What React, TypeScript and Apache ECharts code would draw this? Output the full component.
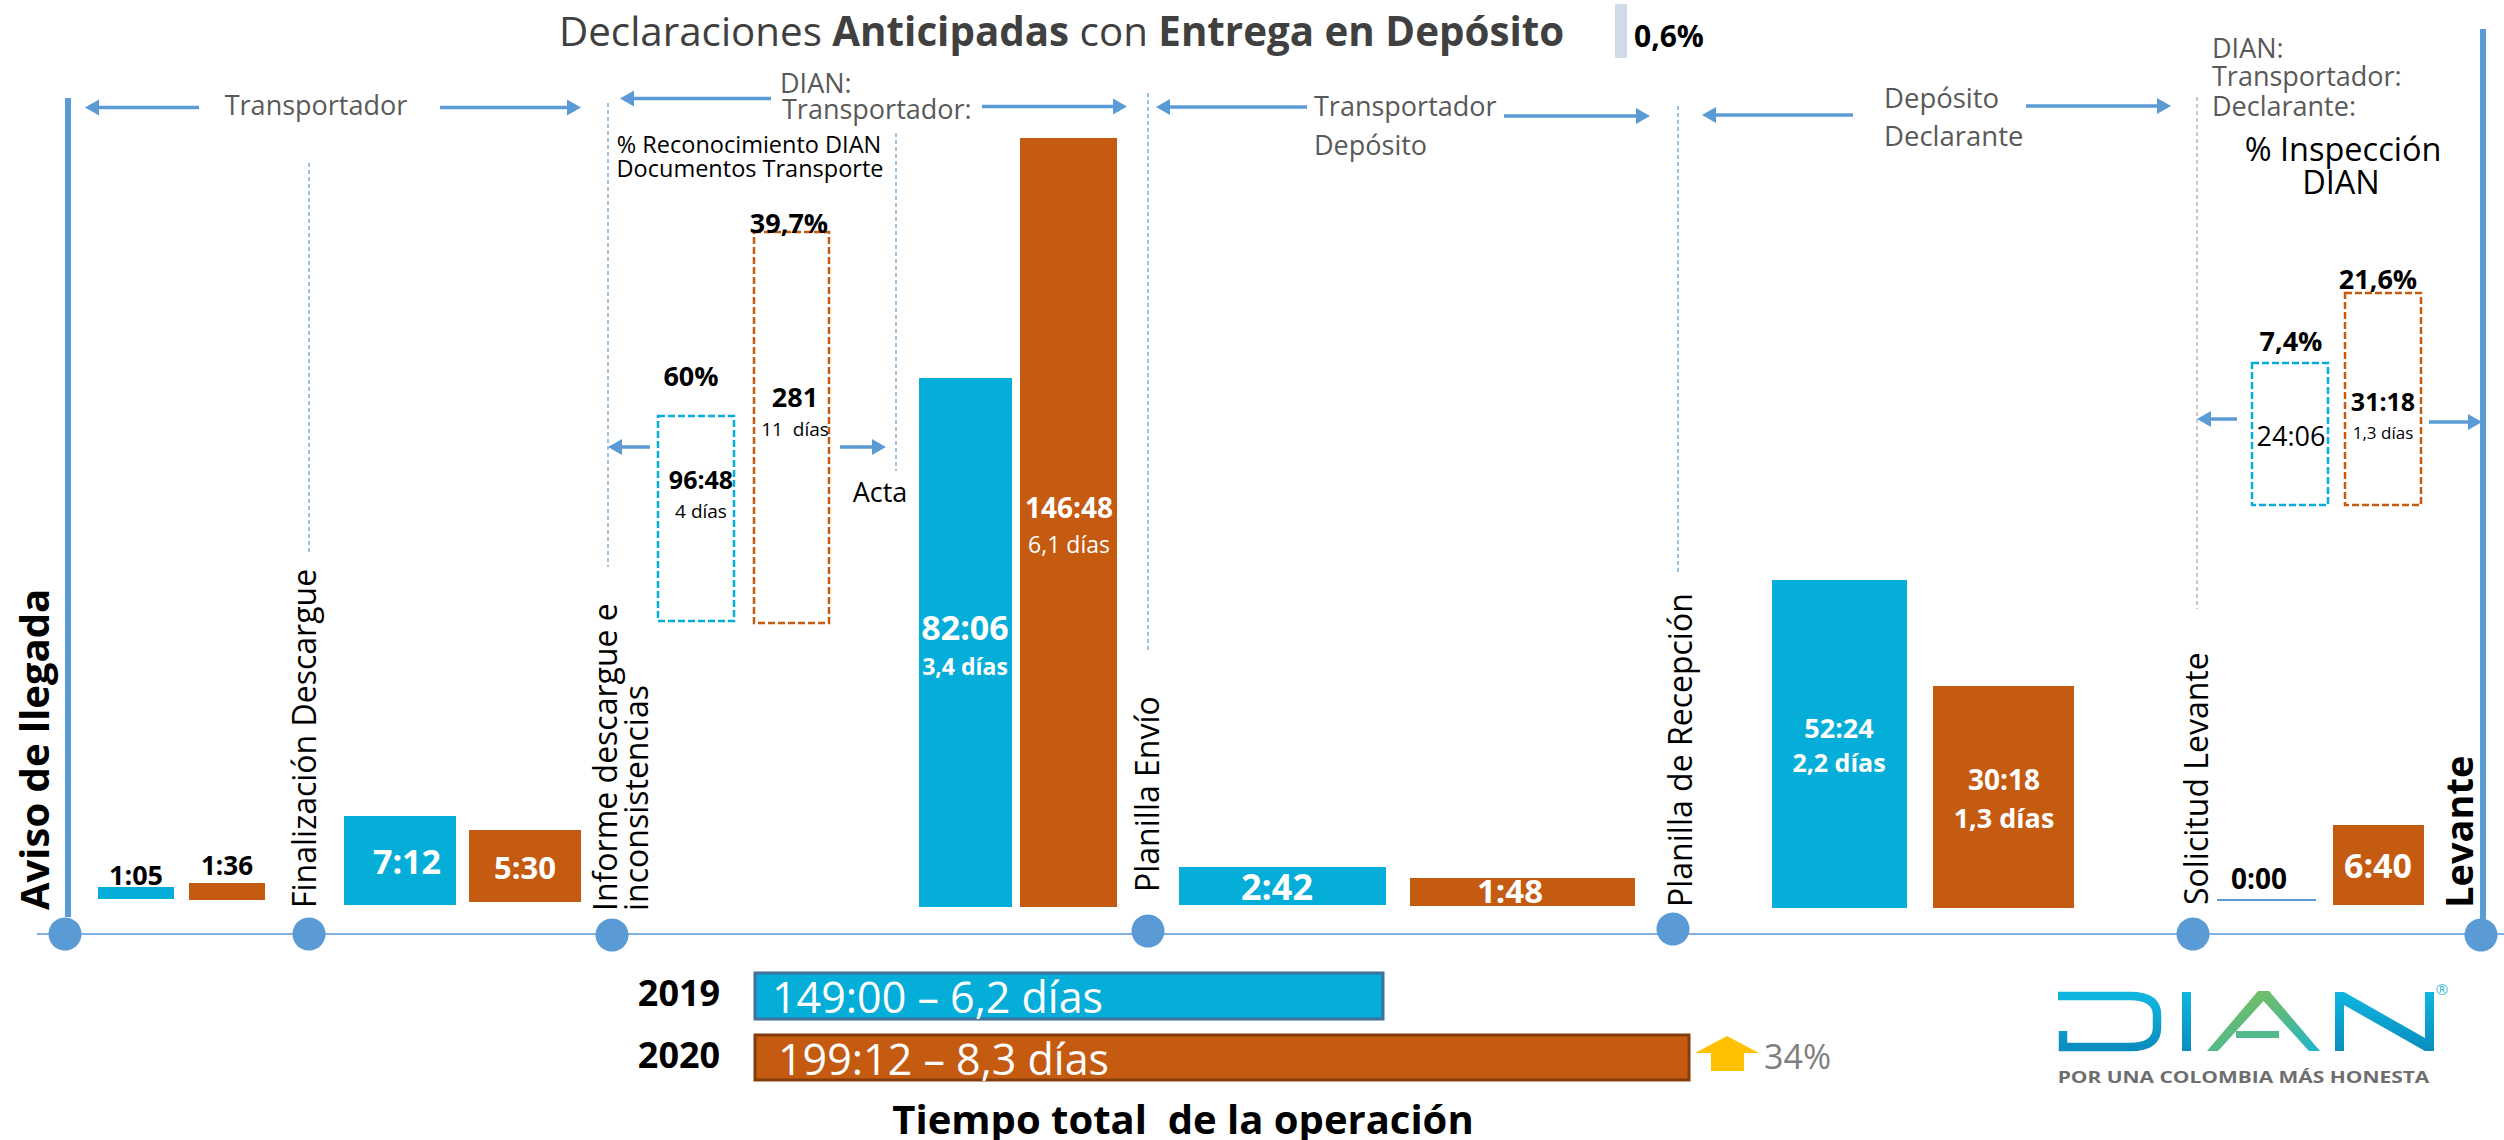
import React, { useEffect, useRef } from "react";
import * as echarts from "echarts";

const W = 2504;
const H = 1140;
const FONT = '"Open Sans", sans-serif';
const BLUE = "#05AED9";
const BROWN = "#C55A11";
const LINE = "#5B9BD5";
const GREY_TEXT = "#595959";

// Heights: the reference's bars are not to one time scale.
const stageHeights2019 = [12, 89, 529, 38, 328, 0];
const stageHeights2020 = [17, 72, 769, 28, 222, 80];
const dashedHeights2019 = [205, 142];
const dashedHeights2020 = [391, 212];
const totalLengths = [628, 934];
const shareHeights = [54];

const stageLabels2019 = ["1:05", "7:12", "82:06", "2:42", "52:24", "0:00"];
const stageLabels2020 = ["1:36", "5:30", "146:48", "1:48", "30:18", "6:40"];
const stageDays2019 = ["", "", "3,4 días", "", "2,2 días", ""];
const stageDays2020 = ["", "", "6,1 días", "", "1,3 días", ""];
const dashedLabels2019 = ["96:48", "24:06"];
const dashedLabels2020 = ["281", "31:18"];
const dashedDays2019 = ["4 días", ""];
const dashedDays2020 = ["11  días", "1,3 días"];
const dashedPct2019 = ["60%", "7,4%"];
const dashedPct2020 = ["39,7%", "21,6%"];
const totalYears = ["2019", "2020"];
const totalLabels = ["149:00 – 6,2 días", "199:12 – 8,3 días"];
const milestones = ["Aviso de llegada", "Finalización Descargue", "Informe descargue e", "inconsistencias", "Planilla Envío", "Planilla de Recepción", "Solicitud Levante", "Levante"];

// ---- layout (pixels of the 2504×1140 page) ----
const slots2019 = [
  { x0: 98, x1: 174, base: 899 }, { x0: 344, x1: 456, base: 905 }, { x0: 919, x1: 1012, base: 907 },
  { x0: 1179, x1: 1386, base: 905 }, { x0: 1772, x1: 1907, base: 908 }, { x0: 2217, x1: 2316, base: 900 },
];
const slots2020 = [
  { x0: 189, x1: 265, base: 900 }, { x0: 469, x1: 581, base: 902 }, { x0: 1020, x1: 1117, base: 907 },
  { x0: 1410, x1: 1635, base: 906 }, { x0: 1933, x1: 2074, base: 908 }, { x0: 2333, x1: 2424, base: 905 },
];
const dashedSlots2019 = [{ x0: 658, x1: 734, base: 621 }, { x0: 2252, x1: 2328, base: 505 }];
const dashedSlots2020 = [{ x0: 754, x1: 829, base: 623 }, { x0: 2345, x1: 2421, base: 505 }];
const shareSlots = [{ x0: 1615, x1: 1627, base: 58 }];
const totalSlots = [{ x: 755, top: 973, bottom: 1019, border: "#41719C" }, { x: 755, top: 1035, bottom: 1080, border: "#843C0C" }];

const labelPos2019 = [
  [136, 874, 27, "#000"], [407, 861, 34, "#fff"], [965, 627, 34, "#fff"],
  [1277, 886, 36, "#fff"], [1839, 727, 27, "#fff"], [2259, 878, 28, "#000"],
] as const;
const labelPos2020 = [
  [227, 865, 26, "#000"], [525, 867, 31, "#fff"], [1069, 507, 28, "#fff"],
  [1510, 890, 33, "#fff"], [2004, 779, 28, "#fff"], [2378, 865, 34, "#fff"],
] as const;
const dayPos2019 = [null, null, [965, 666, 23], null, [1839, 762, 25], null] as const;
const dayPos2020 = [null, null, [1069, 544, 23], null, [2004, 817, 27], null] as const;

function t(text: string, x: number, y: number, size: number, o: any = {}) {
  return {
    type: "text", x, y, z: 20, rotation: o.rotation ?? 0, scaleX: o.scaleX ?? 1,
    style: {
      text, x: 0, y: 0, fontFamily: FONT, fontSize: size, fontWeight: o.bold ? 700 : 400,
      fill: o.color ?? "#000", align: o.align ?? "center", verticalAlign: "middle",
    },
  };
}

function vline(x: number, y0: number, y1: number, stroke = LINE, lineWidth = 1.2, lineDash: any = [4, 3]) {
  return { type: "line", z: 3, shape: { x1: x, y1: y0, x2: x, y2: y1 }, style: { stroke, lineWidth, lineDash } };
}

function arrow(from: number, tip: number, y: number) {
  const dir = tip > from ? 1 : -1;
  const head = 14;
  return [
    { type: "line", z: 4, shape: { x1: from, y1: y, x2: tip - dir * head, y2: y }, style: { stroke: LINE, lineWidth: 3.5 } },
    { type: "polygon", z: 4, shape: { points: [[tip, y], [tip - dir * head, y - 8], [tip - dir * head, y + 8]] }, style: { fill: LINE } },
  ];
}

const rot = Math.PI / 2;
const ROT_SIZE = 32;
const annotations: any[] = [
  // timeline
  { type: "line", z: 2, shape: { x1: 37, y1: 934, x2: 2504, y2: 934 }, style: { stroke: "#7FB0E0", lineWidth: 2 } },
  vline(68, 98, 917, LINE, 6, null),
  vline(2483, 29, 919, LINE, 6, null),
  vline(309, 163, 552),
  vline(608, 103, 567),
  vline(896, 133, 471),
  vline(1148, 93, 652),
  vline(1678, 106, 572),
  vline(2197, 97, 609, "#A6A6A6"),
  ...[[65, 934], [309, 934], [612, 935], [1148, 931], [1673, 929], [2193, 934], [2481, 935]].map(([cx, cy]) => ({
    type: "circle", z: 5, shape: { cx, cy, r: 16.5 }, style: { fill: LINE },
  })),
  // arrows
  ...arrow(199, 85, 107.5), ...arrow(440, 581, 107.5),
  ...arrow(771, 620, 98.5), ...arrow(982, 1127, 106.5),
  ...arrow(1307, 1156, 107), ...arrow(1504, 1650, 116),
  ...arrow(1853, 1702, 115), ...arrow(2026, 2171, 106),
  ...arrow(650, 608, 447), ...arrow(840, 886, 447),
  ...arrow(2237, 2197, 419), ...arrow(2429, 2482, 422),
  // responsible parties
  t("Transportador", 316, 104, 27, { color: GREY_TEXT }),
  t("DIAN:", 780, 82, 27, { color: GREY_TEXT, align: "left" }),
  t("Transportador:", 782, 108, 27, { color: GREY_TEXT, align: "left" }),
  t("Transportador", 1314, 105, 27, { color: GREY_TEXT, align: "left" }),
  t("Depósito", 1314, 144, 27, { color: GREY_TEXT, align: "left" }),
  t("Depósito", 1884, 97, 27.5, { color: GREY_TEXT, align: "left" }),
  t("Declarante", 1884, 135, 27.5, { color: GREY_TEXT, align: "left" }),
  t("DIAN:", 2212, 47, 27, { color: GREY_TEXT, align: "left" }),
  t("Transportador:", 2212, 75, 27, { color: GREY_TEXT, align: "left" }),
  t("Declarante:", 2212, 105, 27, { color: GREY_TEXT, align: "left" }),
  t("% Reconocimiento DIAN", 749, 144, 23.5),
  t("Documentos Transporte", 750, 168, 23.5),
  t("Acta", 880, 491, 27),
  t("% Inspección", 2343, 148, 32.5),
  t("DIAN", 2341, 181, 32.5),
  t("0,6%", 1634, 35, 30, { bold: true, align: "left" }),
  // milestones
  t(milestones[0], 33, 910, 40, { bold: true, rotation: rot, align: "left" }),
  t(milestones[1], 303, 908, ROT_SIZE, { rotation: rot, align: "left" }),
  t(milestones[2], 604, 911, ROT_SIZE, { rotation: rot, align: "left" }),
  t(milestones[3], 635, 911, ROT_SIZE, { rotation: rot, align: "left" }),
  t(milestones[4], 1146, 892, ROT_SIZE, { rotation: rot, align: "left" }),
  t(milestones[5], 1679, 907, ROT_SIZE, { rotation: rot, align: "left" }),
  t(milestones[6], 2195, 905, ROT_SIZE, { rotation: rot, align: "left" }),
  t(milestones[7], 2458, 908, 38, { bold: true, rotation: rot, align: "left" }),
  // stage labels
  ...stageLabels2019.map((s, i) => t(s, labelPos2019[i][0], labelPos2019[i][1], labelPos2019[i][2], { bold: true, color: labelPos2019[i][3] })),
  ...stageLabels2020.map((s, i) => t(s, labelPos2020[i][0], labelPos2020[i][1], labelPos2020[i][2], { bold: true, color: labelPos2020[i][3] })),
  ...stageDays2019.flatMap((s, i) => { const p = dayPos2019[i]; return p ? [t(s, p[0], p[1], p[2], { bold: true, color: "#fff" })] : []; }),
  ...stageDays2020.flatMap((s, i) => { const p = dayPos2020[i]; return p ? [t(s, p[0], p[1], p[2], { bold: i === 4, color: "#fff" })] : []; }),
  // dashed boxes
  t(dashedPct2019[0], 691, 375, 27, { bold: true }),
  t(dashedPct2020[0], 789, 222, 27, { bold: true }),
  t(dashedLabels2019[0], 701, 479, 25, { bold: true }),
  t(dashedDays2019[0], 701, 511, 19),
  t(dashedLabels2020[0], 795, 396, 27, { bold: true }),
  t(dashedDays2020[0], 795, 429, 19),
  t(dashedPct2019[1], 2291, 340, 27, { bold: true }),
  t(dashedPct2020[1], 2378, 278, 27, { bold: true }),
  t(dashedLabels2019[1], 2291, 435, 27),
  t(dashedLabels2020[1], 2383, 401, 25, { bold: true }),
  t(dashedDays2020[1], 2383, 432, 17),
  // totals
  t(totalYears[0], 679, 992, 36, { bold: true }),
  t(totalYears[1], 679, 1054, 36, { bold: true }),
  t(totalLabels[0], 772, 996, 43, { color: "#fff", align: "left" }),
  t(totalLabels[1], 778, 1058, 43, { color: "#fff", align: "left" }),
  t("Tiempo total  de la operación", 1183, 1118, 40, { bold: true }),
  { type: "polygon", z: 6, shape: { points: [[1727, 1036], [1759, 1053], [1744, 1053], [1744, 1071], [1711, 1071], [1711, 1053], [1695, 1053]] }, style: { fill: "#FFC000" } },
  t("34%", 1764, 1056, 34, { color: "#7F7F7F", align: "left" }),
];

function vert(c0: string, c1: string) {
  return new echarts.graphic.LinearGradient(0, 0, 0, 1, [{ offset: 0, color: c0 }, { offset: 1, color: c1 }]);
}

function logo(): any[] {
  const aFill = new echarts.graphic.LinearGradient(0.15, 0, 1, 1, [
    { offset: 0, color: "#7DC05A" }, { offset: 0.55, color: "#52B98A" }, { offset: 1, color: "#1DB5D2" },
  ]);
  return [
    { type: "dianD", z: 8, style: { fill: "none", stroke: vert("#0FB6E0", "#0A8DBF"), lineWidth: 8.5 } },
    { type: "rect", z: 8, shape: { x: 2182, y: 992, width: 9, height: 59 }, style: { fill: vert("#0FB6E0", "#0A8DBF") } },
    { type: "polygon", z: 8, shape: { points: [[2207, 1051], [2258, 991], [2269, 991], [2320, 1051], [2309, 1051], [2263.5, 1001], [2218, 1051]] }, style: { fill: aFill } },
    { type: "rect", z: 8, shape: { x: 2236, y: 1031, width: 43, height: 7 }, style: { fill: "#52B98A" } },
    {
      type: "polygon", z: 8,
      shape: { points: [[2335, 1051], [2335, 992], [2344, 992], [2425, 1038], [2425, 992], [2434, 992], [2434, 1051], [2425, 1051], [2344, 1005], [2344, 1051]] },
      style: { fill: vert("#0FB6E0", "#0A8DBF") },
    },
    t("®", 2442, 989, 15, { color: "#39B9DF" }),
    t("POR UNA COLOMBIA MÁS HONESTA", 2243.5, 1077, 16, { bold: true, color: "#6E6E6E", scaleX: 1.31 }),
  ];
}

const barSeries = (name: string, heights: number[], slots: any[], style: any, zero = false) => ({
  type: "custom", name, coordinateSystem: "cartesian2d", clip: false, silent: true, z: 4,
  data: heights.map((v, i) => [i, v]),
  renderItem: (_: any, api: any) => {
    const i = api.value(0), h = api.value(1), s = slots[i];
    const base = H - s.base;
    const a = api.coord([s.x0, base]);
    const b = api.coord([s.x1, base + h]);
    if (h === 0 && zero) {
      return { type: "line", shape: { x1: a[0], y1: a[1], x2: b[0], y2: a[1] }, style: { stroke: LINE, lineWidth: 2 } };
    }
    return { type: "rect", shape: { x: a[0], y: b[1], width: b[0] - a[0], height: a[1] - b[1] }, style };
  },
});

export default function App() {
  const ref = useRef<HTMLDivElement>(null);
  useEffect(() => {
    if (!ref.current) return;
    echarts.graphic.registerShape(
      "dianD",
      echarts.graphic.extendPath("M2058 996 H2130 Q2157 996 2157 1015 V1028 Q2157 1047 2130 1047 H2063 V1031", {})
    );
    const chart = echarts.init(ref.current, undefined, { renderer: "svg" });
    chart.setOption({
      animation: false,
      title: {
        left: 559, top: 4, padding: 0,
        text: "{n|Declaraciones }{b|Anticipadas}{n| con }{b|Entrega en Depósito}",
        textStyle: {
          rich: {
            n: { fontFamily: FONT, fontSize: 40.3, color: "#404040", fontWeight: 400, lineHeight: 52 },
            b: { fontFamily: FONT, fontSize: 40.3, color: "#404040", fontWeight: 700, lineHeight: 52 },
          },
        },
      },
      grid: { left: 0, right: 0, top: 0, bottom: 0 },
      xAxis: { type: "value", min: 0, max: W, show: false },
      yAxis: { type: "value", min: 0, max: H, show: false },
      graphic: { elements: [...annotations, ...logo()] },
      series: [
        barSeries("2019", stageHeights2019, slots2019, { fill: BLUE }, true),
        barSeries("2020", stageHeights2020, slots2020, { fill: BROWN }),
        barSeries("2019 documentos", dashedHeights2019, dashedSlots2019, { fill: "#fff", stroke: BLUE, lineWidth: 2.5, lineDash: [7, 3] }),
        barSeries("2020 documentos", dashedHeights2020, dashedSlots2020, { fill: "#fff", stroke: BROWN, lineWidth: 2.5, lineDash: [7, 3] }),
        barSeries("Participación", shareHeights, shareSlots, { fill: "#D0DBEA" }),
        {
          type: "custom", name: "Tiempo total", coordinateSystem: "cartesian2d", clip: false, silent: true, z: 4,
          data: totalLengths.map((v, i) => [i, v]),
          renderItem: (_: any, api: any) => {
            const i = api.value(0), s = totalSlots[i];
            const a = api.coord([s.x, H - s.bottom]);
            const b = api.coord([s.x + api.value(1), H - s.top]);
            return {
              type: "rect",
              shape: { x: a[0], y: b[1], width: b[0] - a[0], height: a[1] - b[1] },
              style: { fill: i === 0 ? BLUE : BROWN, stroke: s.border, lineWidth: 3 },
            };
          },
        },
      ],
    });
    return () => chart.dispose();
  }, []);
  return <div ref={ref} style={{ position: "absolute", left: 0, top: 0, width: W, height: H, background: "#fff" }} />;
}
